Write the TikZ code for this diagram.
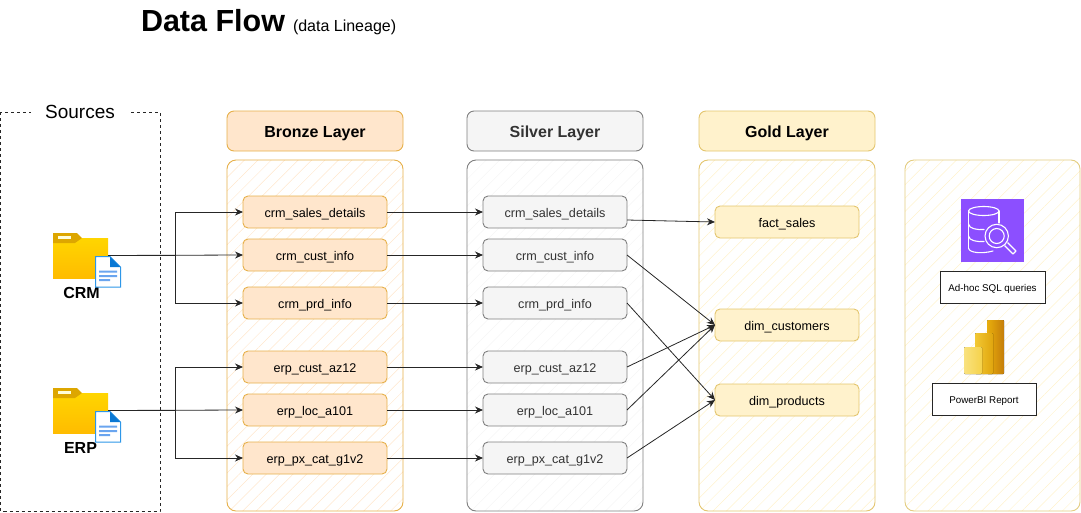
\documentclass[tikz,border=0pt]{standalone}
\usepackage{fontspec}
\setmainfont{Liberation Sans}
\usepackage{xcolor}
\usetikzlibrary{positioning,arrows.meta,patterns.meta}

\definecolor{bronzefill}{HTML}{FFE6CC}
\definecolor{bronzeline}{HTML}{E6B04A}
\definecolor{silverfill}{HTML}{F5F5F5}
\definecolor{silverline}{HTML}{7F7F7F}
\definecolor{goldfill}{HTML}{FFF2CC}
\definecolor{goldline}{HTML}{E3C56E}
\definecolor{sinkline}{HTML}{E3CC80}
\definecolor{foldertop}{HTML}{FFD500}
\definecolor{folderbottom}{HTML}{FFBC00}
\definecolor{foldertab}{HTML}{DDA600}
\definecolor{docline}{HTML}{2E97E8}
\definecolor{doccorner}{HTML}{0A78D4}
\definecolor{doctext}{HTML}{6AA5EF}
\definecolor{sqlicon}{HTML}{8C4FFF}

\begin{document}
\begin{tikzpicture}[
    x=1pt,
    y=-1pt,
    >={Stealth[length=8pt,width=7pt]},
    every node/.style={inner sep=0pt,outer sep=0pt},
    flow/.style={->,draw=black!85,line width=0.8pt},
    hatch/.style={pattern={Lines[angle=45,distance=9.5pt,line width=0.5pt]},pattern color=#1},
    layer/.style={draw,line width=0.9pt,rounded corners=9pt,minimum width=176pt,minimum height=351pt},
    header/.style={draw,line width=0.9pt,rounded corners=7pt,minimum width=176pt,minimum height=40pt,text height=12.6pt,text depth=0pt,font=\fontsize{16}{19}\selectfont\bfseries},
    table/.style={draw,line width=0.9pt,rounded corners=5pt,minimum width=144pt,minimum height=32pt,text height=10pt,text depth=0pt,font=\fontsize{12.6}{15}\selectfont},
    bronzetable/.style={table,draw=bronzeline,fill=bronzefill},
    silvertable/.style={table,draw=silverline,fill=silverfill,text=black!80},
    goldtable/.style={table,draw=goldline,fill=goldfill},
    consumer/.style={draw=black!85,line width=0.9pt,fill=white,minimum height=32pt,text height=8pt,text depth=0pt,font=\fontsize{9.8}{12}\selectfont},
    folder/.style={minimum width=55pt,minimum height=45pt}
]

% Bounding box
\useasboundingbox (0,0) rectangle (1081,512);

% Title
\node[anchor=base west,font=\fontsize{30.5}{36}\selectfont\bfseries] (title) at (141,31) {Data Flow};
\node[anchor=base west,font=\fontsize{16}{19}\selectfont] (subtitle) at (293,31) {(data Lineage)};

% Sources frame
\draw[line width=0.9pt,draw=black!85,dash pattern=on 3pt off 3pt] (0.5,112) rectangle (160,511);
\node[fill=white,minimum width=98pt,minimum height=20pt,font=\fontsize{19}{22}\selectfont] (sources) at (80,112) {Sources};

% Layers
\node[layer,draw=bronzeline,hatch=bronzefill] (bronze) at (315,335.5) {};
\node[layer,draw=silverline,hatch=silverfill] (silver) at (555,335.5) {};
\node[layer,draw=goldline,hatch=goldfill] (gold) at (787,335.5) {};
\node[layer,minimum width=175pt,draw=sinkline,hatch=goldfill] (sink) at (992.5,335.5) {};

\node[header,draw=bronzeline,fill=bronzefill] (bronzehead) at (315,131) {Bronze Layer};
\node[header,draw=silverline,fill=silverfill,text=black!80] (silverhead) at (555,131) {Silver Layer};
\node[header,draw=goldline,fill=goldfill] (goldhead) at (787,131) {Gold Layer};

% Bronze tables
\node[bronzetable] (bsales) at (315,212) {crm\_sales\_details};
\node[bronzetable,below=11pt of bsales] (bcust) {crm\_cust\_info};
\node[bronzetable,below=16pt of bcust] (bprd) {crm\_prd\_info};
\node[bronzetable,below=32pt of bprd] (baz) {erp\_cust\_az12};
\node[bronzetable,below=11pt of baz] (bloc) {erp\_loc\_a101};
\node[bronzetable,below=16pt of bloc] (bcat) {erp\_px\_cat\_g1v2};

% Silver tables
\node[silvertable] (ssales) at (555,212) {crm\_sales\_details};
\node[silvertable,below=11pt of ssales] (scust) {crm\_cust\_info};
\node[silvertable,below=16pt of scust] (sprd) {crm\_prd\_info};
\node[silvertable,below=32pt of sprd] (saz) {erp\_cust\_az12};
\node[silvertable,below=11pt of saz] (sloc) {erp\_loc\_a101};
\node[silvertable,below=16pt of sloc] (scat) {erp\_px\_cat\_g1v2};

% Gold tables
\node[goldtable] (gfact) at (787,222) {fact\_sales};
\node[goldtable,below=71pt of gfact] (gcust) {dim\_customers};
\node[goldtable,below=43pt of gcust] (gprod) {dim\_products};

% Source folders
\node[folder] (crm) at (80.5,255.5) {};
\node[folder] (erp) at (80.5,410.5) {};
\node[font=\fontsize{16}{19}\selectfont\bfseries] (crmlabel) at (81.5,293) {CRM};
\node[font=\fontsize{16}{19}\selectfont\bfseries] (erplabel) at (80.5,448) {ERP};

\foreach \ox/\oy in {53/233,53/388} {
    \begin{scope}[shift={(\ox,\oy)}]
        \fill[top color=foldertop,bottom color=folderbottom] (0,5) rectangle (55,45);
        \fill[foldertab] (0,0) -- (24,0) -- (29,5) -- (22,10) -- (0,10) -- cycle;
        \fill[white!85!yellow] (5,3) rectangle (18,5.5);
        \fill[white,draw=docline,line width=1pt] (42.5,23.5) -- (57,23.5) -- (67.5,34) -- (67.5,54) -- (42.5,54) -- cycle;
        \fill[doccorner] (57,23.5) -- (67.5,34) -- (57,34) -- cycle;
        \fill[doctext] (46,37.5) rectangle (64,39.5) (46,42) rectangle (64,44) (46,46) rectangle (57,48);
    \end{scope}
}

% Ingestion
\coordinate (crmbus) at (175,255.5);
\coordinate (erpbus) at (175,410.5);
\draw[flow] (crm.east) -- (crmbus) |- (bsales.west);
\draw[flow] (crm.east) -- (bcust.west);
\draw[flow] (crm.east) -- (crmbus) |- (bprd.west);
\draw[flow] (erp.east) -- (erpbus) |- (baz.west);
\draw[flow] (erp.east) -- (bloc.west);
\draw[flow] (erp.east) -- (erpbus) |- (bcat.west);

% Bronze to silver
\draw[flow] (bsales) -- (ssales);
\draw[flow] (bcust) -- (scust);
\draw[flow] (bprd) -- (sprd);
\draw[flow] (baz) -- (saz);
\draw[flow] (bloc) -- (sloc);
\draw[flow] (bcat) -- (scat);

% Silver to gold
\draw[flow] ([yshift=-8pt]ssales.east) -- (gfact.west);
\draw[flow] (scust.east) -- (gcust.west);
\draw[flow] (saz.east) -- (gcust.west);
\draw[flow] (sloc.east) -- (gcust.west);
\draw[flow] (sprd.east) -- (gprod.west);
\draw[flow] (scat.east) -- (gprod.west);

% Consumers
\fill[sqlicon] (961,199) rectangle (1024,262);
\draw[white,line width=1.1pt,line cap=round] (999,223) -- (999,211) (968.5,211) -- (968.5,248);
\draw[white,line width=1.1pt] (983.75,211) ellipse (15.25pt and 4.5pt);
\draw[white,line width=1.1pt,line cap=round] (968.5,224) .. controls (969,229) and (978,230) .. (984,229.5);
\draw[white,line width=1.1pt,line cap=round] (968.5,236) .. controls (969,241) and (978,242) .. (984,241.5);
\draw[white,line width=1.1pt,line cap=round] (968.5,248) .. controls (969,253) and (982,254) .. (993,251);
\draw[white,line width=1.1pt] (996.7,236) circle (11.7pt) (996.7,236) circle (7.5pt);
\draw[white,line width=1.1pt,line join=round] (1004.5,245.5) -- (1013,254) -- (1016,251) -- (1007.5,242.5);
\node[consumer,minimum width=105pt] (adhoc) at (992.5,287) {Ad-hoc SQL queries};

\definecolor{bidark}{HTML}{E8AE0C}
\definecolor{bidarker}{HTML}{C57D0A}
\definecolor{bimid}{HTML}{F2C833}
\definecolor{bimidd}{HTML}{E0A50E}
\definecolor{bilight}{HTML}{F9E27F}
\definecolor{bilightd}{HTML}{F5D24A}
\fill[rounded corners=1pt,left color=bidark,right color=bidarker] (987,320) rectangle (1004,374);
\fill[rounded corners=1pt,left color=bimid,right color=bimidd] (975,333) rectangle (993,374);
\fill[rounded corners=1pt,left color=bilight,right color=bilightd] (964,347) rectangle (982,374);
\node[consumer,minimum width=104pt] (powerbi) at (984,399) {PowerBI Report};

\end{tikzpicture}
\end{document}
